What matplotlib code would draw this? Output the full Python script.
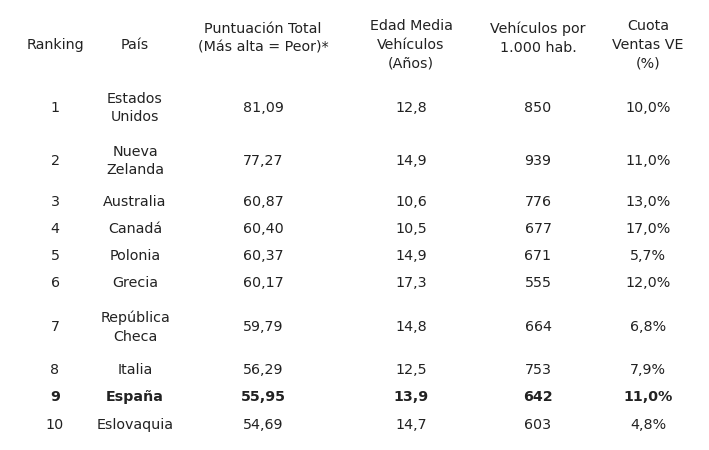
import matplotlib.pyplot as plt

headers = ['Ranking', 'País', 'Puntuación Total\n(Más alta = Peor)*', 'Edad Media\nVehículos\n(Años)',
           'Vehículos por\n1.000 hab.', 'Cuota\nVentas VE\n(%)']
ranking = ['1', '2', '3', '4', '5', '6', '7', '8', '9', '10']
paises = ['Estados\nUnidos', 'Nueva\nZelanda', 'Australia', 'Canadá', 'Polonia', 'Grecia',
          'República\nCheca', 'Italia', 'España', 'Eslovaquia']
puntuacion = ['81,09', '77,27', '60,87', '60,40', '60,37', '60,17', '59,79', '56,29', '55,95', '54,69']
edad = ['12,8', '14,9', '10,6', '10,5', '14,9', '17,3', '14,8', '12,5', '13,9', '14,7']
vehiculos = ['850', '939', '776', '677', '671', '555', '664', '753', '642', '603']
cuota = ['10,0%', '11,0%', '13,0%', '17,0%', '5,7%', '12,0%', '6,8%', '7,9%', '11,0%', '4,8%']
highlight = 'España'

W, H = 709, 450
col_x = [55, 135, 263, 411, 538, 648]
header_y = [45, 45, 38, 45, 38, 45]
row_y = [108, 161, 202, 229, 256, 283, 327, 370, 397, 425]

fig = plt.figure(figsize=(W / 100, H / 100), dpi=100)
fig.patch.set_facecolor('white')

def put(x, y, s, bold=False):
    fig.text(x / W, 1 - y / H, s, ha='center', va='center', fontsize=10.3,
             family='DejaVu Sans', color='#222222', linespacing=1.45,
             fontweight='bold' if bold else 'normal')

for x, y, h in zip(col_x, header_y, headers):
    put(x, y, h)

columns = [ranking, paises, puntuacion, edad, vehiculos, cuota]
for i, y in enumerate(row_y):
    bold = paises[i] == highlight
    for x, col in zip(col_x, columns):
        put(x, y, col[i], bold)

fig.savefig('out.png', dpi=100, facecolor='white')
